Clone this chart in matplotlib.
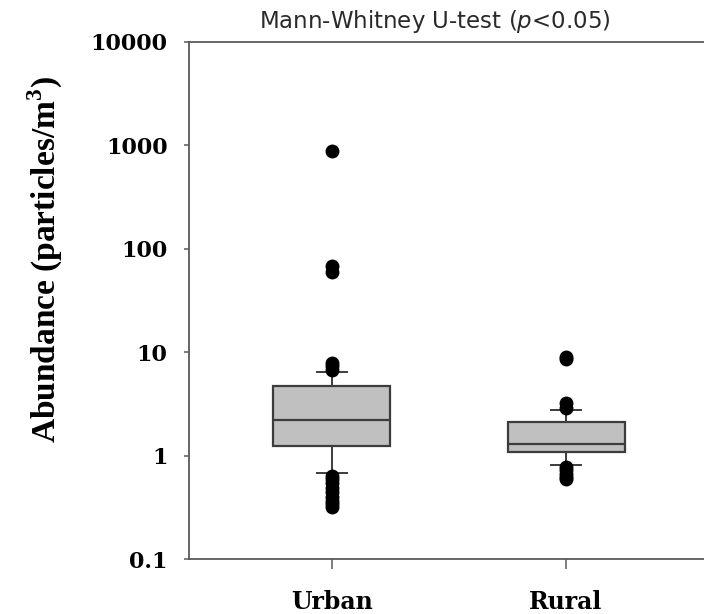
import numpy as np
import matplotlib.pyplot as plt
import matplotlib as mpl
from matplotlib.ticker import FixedLocator, NullLocator

# fonts: serif bold for the axes, sans for the test note
mpl.rcParams['mathtext.fontset'] = 'custom'
mpl.rcParams['mathtext.rm'] = 'Liberation Serif:bold'
mpl.rcParams['mathtext.it'] = 'DejaVu Sans:italic'

# Box statistics per site type (particles/m3)
sites = ["Urban", "Rural"]
q1 = [1.25, 1.09]
medians = [2.22, 1.29]
q3 = [4.68, 2.10]
whisker_low = [0.68, 0.82]
whisker_high = [6.43, 2.78]
urban_outliers = [880, 68, 60, 7.9, 7.3, 6.7,
                  0.64, 0.59, 0.54, 0.49, 0.44, 0.40, 0.36, 0.34, 0.32]
rural_outliers = [8.9, 8.5, 3.2, 2.9, 0.78, 0.72, 0.66, 0.62, 0.59]

y_ticks = [0.1, 1, 10, 100, 1000, 10000]
y_tick_labels = ["0.1", "1", "10", "100", "1000", "10000"]

edge = "#3c3c3c"
spine_color = "#5a5a5a"

fig = plt.figure(figsize=(7.04, 6.14), dpi=100)
ax = fig.add_axes([189 / 704, 55 / 614, 520 / 704, 517 / 614])

stats = []
for i, fliers in enumerate([urban_outliers, rural_outliers]):
    stats.append({
        "label": sites[i],
        "q1": q1[i],
        "med": medians[i],
        "q3": q3[i],
        "whislo": whisker_low[i],
        "whishi": whisker_high[i],
        "fliers": np.array(fliers),
    })

ax.bxp(stats, positions=[1, 2], widths=0.5, capwidths=0.13,
       patch_artist=True,
       boxprops=dict(facecolor="#c0c0c0", edgecolor=edge, linewidth=1.6),
       medianprops=dict(color=edge, linewidth=1.6),
       whiskerprops=dict(color=edge, linewidth=1.4),
       capprops=dict(color=edge, linewidth=1.4),
       flierprops=dict(marker="o", markerfacecolor="black",
                       markeredgecolor="black", markersize=9))

ax.set_yscale("log")
ax.set_ylim(0.1, 10000)
ax.set_xlim(0.389, 2.611)

ax.yaxis.set_major_locator(FixedLocator(y_ticks))
ax.yaxis.set_minor_locator(NullLocator())
ax.set_yticklabels(y_tick_labels)
ax.set_xticks([1, 2])
ax.set_xticklabels(sites)

for label in ax.get_yticklabels():
    label.set_fontfamily("DejaVu Serif")
    label.set_fontweight("bold")
    label.set_fontsize(16)
for label in ax.get_xticklabels():
    label.set_fontfamily("DejaVu Serif")
    label.set_fontweight("bold")
    label.set_fontsize(17)

ax.tick_params(axis="y", direction="out", length=3.5, width=1.1,
               color=spine_color, pad=12)
ax.tick_params(axis="x", direction="out", length=7, width=1.1,
               color=spine_color, pad=15)

for side in ["left", "top", "bottom", "right"]:
    ax.spines[side].set_color(spine_color)
    ax.spines[side].set_linewidth(1.3)

fig.text(45 / 704, 1 - 260 / 614, "Abundance (particles/m$^{3}$)",
         rotation=90, ha="center", va="center",
         family="Liberation Serif", fontweight="bold", fontsize=24)

fig.text(435 / 704, 1 - 28 / 614, "Mann-Whitney U-test ($\\mathit{p}$<0.05)",
         ha="center", va="baseline", family="DejaVu Sans",
         fontsize=16.5, color="#2a2a2a")

plt.savefig("out.png", dpi=100)
